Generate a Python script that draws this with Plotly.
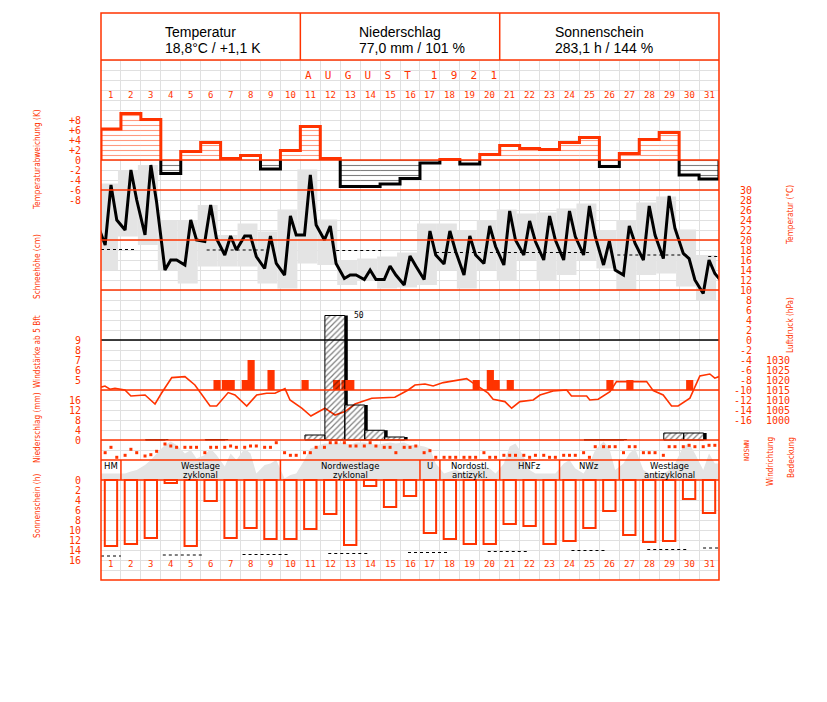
import plotly.graph_objects as go

RED = '#ff3300'
BAND = '#e4e4e4'
GRID = '#e0e0e0'
MONO = 'DejaVu Sans Mono, monospace'
NARROW = 'DejaVu Sans Condensed, DejaVu Sans, sans-serif'

# ---------------- data ----------------
days = list(range(1, 32))
obs_hours = [7, 14, 21]

temp_dev = [6.2, 9.3, 8.1, -2.7, 1.7, 3.5, 0.3, 0.9, -1.8, 1.9, 6.7, 0.3, -5.3, -5.3, -4.8, -3.7,
            -0.6, 0.1, -0.8, 1.1, 2.9, 2.3, 2.1, 3.5, 4.5, -1.3, 1.3, 4.1, 5.5, -3.0, -3.8]

temp_7h = [19.0, 22.0, 21.0, 14.0, 15.0, 19.7, 17.0, 20.8, 14.3, 13.0, 21.0, 20.0, 12.3, 12.1, 12.1, 11.0,
           12.1, 15.2, 13.0, 15.3, 15.0, 17.0, 16.0, 16.0, 17.0, 15.0, 13.0, 16.0, 16.3, 17.3, 9.3]
temp_14h = [31.0, 34.0, 35.0, 16.0, 24.0, 27.0, 20.8, 20.8, 20.8, 24.8, 33.0, 22.8, 13.0, 14.0, 14.8, 16.8,
            21.8, 21.8, 20.8, 22.8, 25.8, 23.8, 24.8, 25.8, 26.8, 19.8, 22.8, 26.8, 28.8, 16.3, 16.0]
temp_21h = [24.0, 28.0, 27.5, 16.0, 20.0, 20.3, 18.0, 16.7, 15.3, 21.0, 23.0, 15.3, 13.0, 12.1, 13.0, 14.8,
            17.0, 17.7, 17.0, 18.7, 20.0, 19.7, 20.0, 20.7, 20.7, 14.0, 19.3, 21.0, 22.3, 12.0, 13.3]
temp_prev_21h = 23.5   # 31 July, 21h
temp_next_7h = 11.3    # 1 September, 7h

temp_max = [31.3, 34.0, 35.0, 24.0, 24.0, 27.0, 21.0, 23.3, 21.7, 26.1, 34.1, 24.1, 16.0, 16.3, 16.7, 17.5,
            23.3, 23.3, 22.0, 24.0, 26.1, 25.3, 25.5, 26.3, 27.3, 22.0, 24.0, 27.5, 28.7, 22.1, 17.0]
temp_min = [14.0, 20.7, 19.0, 14.0, 11.3, 14.7, 14.7, 14.7, 11.3, 10.3, 15.3, 15.0, 11.0, 12.0, 10.3, 10.5,
            11.0, 14.0, 10.3, 14.0, 12.0, 16.0, 12.0, 13.0, 16.0, 14.3, 10.0, 13.0, 13.3, 10.7, 8.0]

norm_start = [0.5, 5.8, 12.3, 17.3, 26.4, 30.96]
norm_end = [2.24, 8.9, 14.7, 25.1, 29.9, 31.5]
norm_temp = [18.1, 18.0, 17.9, 17.5, 17.0, 16.7]

precip = [0, 0, 0.1, 0, 0, 0.2, 0, 0, 0, 0, 2.0, 49.8, 14.0, 3.9, 1.2, 0,
          0, 0, 0, 0, 0, 0, 0, 0, 0.1, 0.1, 0, 0, 2.8, 2.8, 0]

wind_day = [6, 7, 7, 8, 8, 9, 11, 12, 13, 13, 19, 20, 20, 21, 26, 27, 30]
wind_hour = [21, 7, 14, 7, 14, 14, 7, 21, 7, 14, 21, 14, 21, 14, 14, 14, 14]
wind_bft = [5, 5, 5, 5, 7, 6, 5, 5, 5, 5, 5, 6, 5, 5, 5, 5, 5]

pressure_pos = [0.5, 0.70, 0.95, 1.20, 1.70, 2.00, 2.71, 3.21, 3.54, 4.05, 4.71, 5.21, 5.97, 6.30, 6.88,
                7.22, 7.81, 8.31, 8.81, 9.23, 9.73, 9.98, 10.57, 11.03, 11.73, 12.24, 12.74, 13.24, 14.08,
                14.91, 15.24, 15.91, 16.25, 16.75, 17.16, 17.67, 18.34, 18.84, 19.17, 19.92, 20.17, 20.76,
                21.10, 21.51, 22.18, 22.52, 23.18, 23.86, 24.10, 24.86, 25.02, 25.44, 26.03, 26.36, 26.86,
                27.87, 28.20, 28.70, 29.12, 29.45, 30.04, 30.29, 30.54, 31.04, 31.29, 31.5]
pressure_hpa = [1016.4, 1017.0, 1015.4, 1015.9, 1015.0, 1012.0, 1012.5, 1008.0, 1013.5, 1021.2, 1021.7,
                1017.5, 1007.0, 1007.0, 1013.7, 1012.5, 1007.0, 1012.5, 1013.4, 1013.4, 1015.7, 1010.0,
                1005.9, 1002.0, 1005.9, 1002.5, 1004.2, 1008.0, 1010.9, 1011.4, 1011.4, 1015.0, 1017.5,
                1018.0, 1017.0, 1018.7, 1020.0, 1020.7, 1018.4, 1013.4, 1010.4, 1009.2, 1005.9, 1009.2,
                1010.0, 1012.5, 1014.5, 1015.0, 1012.0, 1012.0, 1010.0, 1010.4, 1014.2, 1019.2, 1019.2,
                1019.2, 1014.7, 1012.5, 1007.0, 1007.0, 1010.9, 1016.7, 1022.0, 1023.0, 1020.9, 1021.7]

cloud_7h = [1.3, 1.3, 3.0, 7.0, 5.3, 5.0, 2.7, 6.3, 3.0, 0.3, 4.0, 7.3, 7.5, 7.5, 7.3, 7.5,
            6.7, 1.3, 1.3, 2.7, 3.3, 4.7, 1.3, 3.3, 1.3, 7.7, 3.3, 2.0, 1.3, 6.7, 2.0]
cloud_14h = [1.3, 1.7, 4.0, 7.7, 6.0, 6.3, 5.3, 5.3, 3.3, 1.0, 6.3, 7.3, 7.0, 7.3, 7.5, 7.0,
             6.3, 1.7, 2.0, 2.3, 6.7, 2.0, 1.3, 4.0, 3.3, 6.3, 5.3, 1.3, 2.0, 7.3, 5.3]
cloud_21h = [1.3, 2.0, 5.3, 7.0, 4.3, 5.0, 4.0, 1.3, 4.0, 1.3, 6.7, 7.3, 7.5, 7.0, 7.3, 7.0,
             3.3, 2.0, 2.7, 1.3, 7.3, 1.3, 1.3, 2.3, 6.0, 2.0, 6.3, 1.3, 3.3, 5.3, 3.3]

# wind direction in degrees (N=0/360, O=90, S=180, W=270)
winddir_7h = [133, 91, 80, 272, 219, 133, 219, 219, 219, 133, 133, 219, 293, 240, 219, 219,
              133, 59, 59, 133, 91, 91, 91, 91, 133, 229, 133, 133, 91, 229, 229]
winddir_14h = [219, 187, 101, 240, 219, 219, 240, 240, 219, 91, 133, 293, 240, 293, 219, 219,
               165, 59, 59, 59, 91, 59, 59, 91, 59, 229, 229, 133, 229, 251, 251]
winddir_21h = [59, 133, 155, 219, 219, 219, 219, 240, 293, 91, 219, 293, 240, 240, 133, 240,
               59, 59, 59, 59, 91, 91, 59, 91, 229, 229, 229, 133, 229, 229, 251]

sunshine = [13.2, 12.8, 11.6, 0.6, 13.2, 4.2, 11.6, 9.6, 11.8, 11.8, 9.8, 6.8, 13.0, 1.2, 5.4, 3.2,
            10.6, 11.8, 12.8, 12.8, 8.8, 9.2, 12.8, 12.2, 9.6, 6.2, 11.0, 12.4, 12.2, 3.8, 6.6]
sun_norm_start = [0.5, 3.6, 7.6, 11.9, 15.9, 19.9, 24.1, 27.9, 30.7]
sun_norm_end = [1.5, 5.7, 9.9, 13.9, 17.9, 21.9, 25.9, 29.9, 31.5]
sun_norm = [15.2, 15.0, 14.9, 14.7, 14.5, 14.3, 14.1, 13.9, 13.6]

weather_start = [1, 2, 10, 17, 18, 21, 24, 27]
weather_end = [1, 9, 16, 17, 20, 23, 26, 31]
weather_line1 = ['HM', 'Westlage', 'Nordwestlage', 'U', 'Nordostl.', 'HNFz', 'NWz', 'Westlage']
weather_line2 = ['', 'zyklonal', 'zyklonal', '', 'antizykl.', '', '', 'antizyklonal']

header_titles = ['Temperatur', 'Niederschlag', 'Sonnenschein']
header_values = ['18,8°C / +1,1 K', '77,0 mm / 101 %', '283,1 h / 144 %']
month_title = 'AUGUST'
year_title = '1921'

# ---------------- geometry (screen pixels of the 827x702 window) ----------------
W, H = 827, 702
OFF = 8                      # page body margin
PL, PR, PT, PB = 101, 719, 13, 580
PW, PH = PR - PL, PB - PT


def prange(p0, v0, ppu):
    """axis range so that value v0 sits at pixel row p0, ppu pixels per unit (upwards)"""
    return [v0 + (p0 - PB) / ppu, v0 + (p0 - PT) / ppu]


def obs_x(d, h):
    return d - 0.5 + (h - 2) / 24.0


def xp(px):
    return (px - PL) / PW


def yp(py):
    return (PB - py) / PH


fig = go.Figure()

# ---- base subplot: white covers over the grid (header, weather-type row)
for y0, y1 in ((PT, 60), (460, 480)):
    fig.add_trace(go.Scatter(x=[0.5, 31.5, 31.5, 0.5, 0.5], y=[y0, y0, y1, y1, y0], yaxis='y', mode='lines',
                             line=dict(width=0, color='white'), fill='toself', fillcolor='white',
                             hoverinfo='skip'))

# ---- cloud cover (y2)
cx, cy = [], []
for i, d in enumerate(days):
    for h, arr in zip(obs_hours, (cloud_7h, cloud_14h, cloud_21h)):
        cx.append(obs_x(d, h))
        cy.append(arr[i])
fig.add_trace(go.Scatter(x=[0.5] + cx + [31.5], y=[cy[0]] + cy + [cy[-1]], yaxis='y2', mode='lines',
                         line=dict(width=0, color=BAND), fill='tozeroy', fillcolor=BAND, hoverinfo='skip'))

# ---- temperature (y3)
fig.add_trace(go.Bar(x=[d - 0.15 for d in days], y=[mx - mn for mx, mn in zip(temp_max, temp_min)],
                     base=temp_min, width=1.0, yaxis='y3', marker=dict(color=BAND, line=dict(width=0))))
nx, ny = [], []
for s, e, v in zip(norm_start, norm_end, norm_temp):
    nx += [s, e, None]
    ny += [v, v, None]
fig.add_trace(go.Scatter(x=nx, y=ny, yaxis='y3', mode='lines', line=dict(color='black', width=1, dash='dot')))
tx, ty = [obs_x(0, 21)], [temp_prev_21h]
for i, d in enumerate(days):
    for h, arr in zip(obs_hours, (temp_7h, temp_14h, temp_21h)):
        tx.append(obs_x(d, h))
        ty.append(arr[i])
tx.append(obs_x(32, 7))
ty.append(temp_next_7h)
fig.add_trace(go.Scatter(x=tx, y=ty, yaxis='y3', mode='lines', line=dict(color='black', width=3)))

# ---- temperature deviation (y4)
pos = [v if v > 0 else None for v in temp_dev]
neg = [v if v <= 0 else None for v in temp_dev]
fig.add_trace(go.Bar(x=days, y=pos, width=1.0, yaxis='y4',
                     marker=dict(color='white', line=dict(width=0),
                                 pattern=dict(shape='-', fgcolor=RED, bgcolor='white', size=5, solidity=0.22))))
fig.add_trace(go.Bar(x=days, y=neg, width=1.0, yaxis='y4',
                     marker=dict(color='white', line=dict(width=0),
                                 pattern=dict(shape='-', fgcolor='black', bgcolor='white', size=5, solidity=0.22))))


def step_runs(values, positive):
    xs, ys = [], []
    i, n = 0, len(values)
    while i < n:
        if (values[i] > 0) == positive:
            j = i
            while j + 1 < n and (values[j + 1] > 0) == positive:
                j += 1
            xs.append(days[i] - 0.5)
            ys.append(0)
            for k in range(i, j + 1):
                xs += [days[k] - 0.5, days[k] + 0.5]
                ys += [values[k], values[k]]
            xs += [days[j] + 0.5, None]
            ys += [0, None]
            i = j + 1
        else:
            i += 1
    return xs, ys


for positive, col in ((True, RED), (False, 'black')):
    sx, sy = step_runs(temp_dev, positive)
    fig.add_trace(go.Scatter(x=sx, y=sy, yaxis='y4', mode='lines', line=dict(color=col, width=3)))

# ---- precipitation back: shadow + white (y6)
pr_x = [d + 0.23 for d in days]
pr_y = [p if p > 0 else None for p in precip]
fig.add_trace(go.Bar(x=[x + 0.15 for x in pr_x], y=pr_y, width=1.0, yaxis='y6',
                     marker=dict(color='black', line=dict(width=0))))
fig.add_trace(go.Bar(x=pr_x, y=pr_y, width=1.0, yaxis='y6', marker=dict(color='white', line=dict(width=0))))

# ---- wind force (y7)
fig.add_trace(go.Bar(x=[obs_x(d, h) + 0.03 for d, h in zip(wind_day, wind_hour)], y=[b - 4 for b in wind_bft],
                     base=4, width=0.36, yaxis='y7', marker=dict(color=RED, line=dict(width=0))))

# ---- pressure (y8)
fig.add_trace(go.Scatter(x=pressure_pos, y=pressure_hpa, yaxis='y8', mode='lines',
                         line=dict(color=RED, width=1.6)))

# ---- precipitation front: hatch (y9)
fig.add_trace(go.Bar(x=pr_x, y=pr_y, width=1.0, yaxis='y9',
                     marker=dict(color='rgba(0,0,0,0)', line=dict(color='black', width=1),
                                 pattern=dict(shape='/', fgcolor='black', bgcolor='rgba(0,0,0,0)',
                                              size=4, solidity=0.3))))

# ---- wind direction (y10)
wx, wy = [], []
for i, d in enumerate(days):
    for h, arr in zip(obs_hours, (winddir_7h, winddir_14h, winddir_21h)):
        wx.append(obs_x(d, h))
        wy.append(arr[i])
fig.add_trace(go.Scatter(x=wx, y=wy, yaxis='y10', mode='markers',
                         marker=dict(symbol='square', size=3, color=RED, line=dict(width=0))))

# ---- sunshine (y11)
fig.add_trace(go.Bar(x=days, y=sunshine, width=0.62, yaxis='y11',
                     marker=dict(color='rgba(0,0,0,0)', line=dict(color=RED, width=2))))
snx, sny = [], []
for s, e, v in zip(sun_norm_start, sun_norm_end, sun_norm):
    snx += [s, e, None]
    sny += [v, v, None]
fig.add_trace(go.Scatter(x=snx, y=sny, yaxis='y11', mode='lines', line=dict(color='black', width=1, dash='dot')))

# ---------------- axes ----------------
tickfont = dict(family=MONO, size=10, color=RED)


def ax(rng, vals=None, text=None, side='left', standoff=18):
    d = dict(overlaying='y', anchor='free', position=0 if side == 'left' else 1, side=side,
             range=rng, showgrid=False, zeroline=False, showline=False, fixedrange=True,
             ticks='outside' if vals else '', ticklen=standoff, tickcolor='rgba(0,0,0,0)',
             tickfont=tickfont, showticklabels=bool(vals))
    if vals:
        d['tickvals'] = vals
        d['ticktext'] = text if text else [str(v) for v in vals]
    else:
        d['tickvals'] = []
    return d


def pad(s, n=3):
    return '\u00a0' * (n - len(s)) + s


dev_vals = [8, 6, 4, 2, 0, -2, -4, -6, -8]
temp_vals = list(range(-16, 31, 2))
layout_axes = dict(
    yaxis=dict(range=[PB, PT], showgrid=True, gridcolor=GRID, gridwidth=1, dtick=10, tick0=0,
               showticklabels=False, zeroline=False, showline=False, fixedrange=True),
    yaxis2=ax(prange(480, 0, 5)),
    yaxis3=ax(prange(290, 10, 5), temp_vals, [pad(str(v)) for v in temp_vals], side='right', standoff=12),
    yaxis4=ax(prange(160, 0, 5), dev_vals, ['+%d' % v if v > 0 else str(v) for v in dev_vals]),
    yaxis5=ax(prange(290, 0, 5), [0, 2, 4, 6, 8, 10]),
    yaxis6=ax(prange(440, 0, 2.5)),
    yaxis7=ax(prange(390, 4, 10), [5, 6, 7, 8, 9]),
    yaxis8=ax(prange(420, 1000, 2), [1000, 1005, 1010, 1015, 1020, 1025, 1030], side='right', standoff=44),
    yaxis9=ax(prange(440, 0, 2.5), [0, 4, 8, 12, 16], [pad(str(v), 2) for v in [0, 4, 8, 12, 16]]),
    yaxis10=ax(prange(461, 0, 22.5 / 360)),
    yaxis11=ax(prange(480, 0, -5), list(range(0, 17, 2)), [pad(str(v), 2) for v in range(0, 17, 2)]),
)

shapes = []


def hline(yref, yv, color=RED, width=1.5):
    shapes.append(dict(type='line', xref='paper', yref=yref, x0=0, x1=1, y0=yv, y1=yv,
                       line=dict(color=color, width=width), layer='above'))


hline('y', 60)
hline('y4', 0)
for tv in (30, 20, 10, -10):
    hline('y3', tv)
hline('y3', 0, color='black')
hline('y9', 0)
hline('y11', -4)
hline('y11', 0)
for xv in (10.5, 20.5):
    shapes.append(dict(type='line', xref='x', yref='y', x0=xv, x1=xv, y0=PT, y1=60,
                       line=dict(color=RED, width=1.5), layer='above'))
for s in weather_start[1:]:
    shapes.append(dict(type='line', xref='x', yref='y', x0=s - 0.5, x1=s - 0.5, y0=460, y1=480,
                       line=dict(color=RED, width=1.5), layer='above'))
shapes.append(dict(type='rect', xref='paper', yref='paper', x0=0, x1=1, y0=0, y1=1,
                   line=dict(color=RED, width=1.5), layer='above'))

ann = []
HFONT = dict(family='Liberation Sans, Arial, sans-serif', size=14, color='black')
for i, (t, v) in enumerate(zip(header_titles, header_values)):
    x0 = [163, 357, 553][i]
    ann.append(dict(text=t, xref='paper', yref='y', x=xp(x0), y=32, xanchor='left', yanchor='middle',
                    showarrow=False, font=HFONT))
    ann.append(dict(text=v, xref='paper', yref='y', x=xp(x0), y=48, xanchor='left', yanchor='middle',
                    showarrow=False, font=HFONT))
title = '\u00a0\u00a0'.join(month_title) + '\u00a0\u00a0\u00a0' + '\u00a0\u00a0'.join(year_title)
ann.append(dict(text=title, xref='paper', yref='y', x=xp(303), y=75, xanchor='left', yanchor='middle',
                showarrow=False, font=dict(family=MONO, size=11, color=RED)))
for d in days:
    for yy in (95, 564):
        ann.append(dict(text=str(d), xref='x', yref='y', x=d, y=yy, showarrow=False, yanchor='middle',
                        font=dict(family=MONO, size=9, color=RED)))
WFONT = dict(family='DejaVu Sans, sans-serif', size=8.5, color='black')
for s, e, l1, l2 in zip(weather_start, weather_end, weather_line1, weather_line2):
    xc = (s + e) / 2.0
    ann.append(dict(text=l1, xref='x', yref='y', x=xc, y=466, showarrow=False, yanchor='middle', font=WFONT))
    if l2:
        ann.append(dict(text=l2, xref='x', yref='y', x=xc, y=474.5, showarrow=False, yanchor='middle', font=WFONT))
imax = precip.index(max(precip))
ann.append(dict(text='%d' % round(max(precip)), xref='x', yref='y9', x=pr_x[imax] + 0.85, y=max(precip),
                xanchor='left', yanchor='middle', showarrow=False, font=dict(family=MONO, size=8, color='black')))
TFONT = dict(family=NARROW, size=8.2, color=RED)
left_titles = [('Temperaturabweichung (K)', 160), ('Schneehöhe (cm)', 267), ('Windstärke ab 5 Bft', 352),
               ('Niederschlag (mm)', 428), ('Sonnenschein (h)', 506)]
for t, yy in left_titles:
    ann.append(dict(text=t, xref='paper', yref='paper', x=xp(37), y=yp(yy), textangle=-90, showarrow=False,
                    xanchor='center', yanchor='middle', font=TFONT))
right_titles = [('Temperatur (°C)', 790, 215), ('Luftdruck (hPa)', 790, 325), ('Windrichtung', 770, 461),
                ('Bedeckung', 791, 458)]
for t, xx, yy in right_titles:
    ann.append(dict(text=t, xref='paper', yref='paper', x=xp(xx), y=yp(yy), textangle=-90, showarrow=False,
                    xanchor='center', yanchor='middle', font=TFONT))
ann.append(dict(text='NOSWN', xref='paper', yref='paper', x=xp(747), y=yp(450), textangle=-90, showarrow=False,
                xanchor='center', yanchor='middle', font=dict(family=MONO, size=7, color=RED)))

fig.update_layout(
    width=W - OFF, height=H - OFF,
    margin=dict(l=PL - OFF, r=W - PR, t=PT - OFF, b=H - PB, pad=0),
    paper_bgcolor='white', plot_bgcolor='white', showlegend=False, barmode='overlay',
    xaxis=dict(range=[0.5, 31.5], tickvals=[d + 0.5 for d in [0] + days], showgrid=True, gridcolor=GRID,
               showticklabels=False, ticks='', zeroline=False, showline=False, fixedrange=True),
    shapes=shapes, annotations=ann, **layout_axes,
)

fig.write_html('out.html')
